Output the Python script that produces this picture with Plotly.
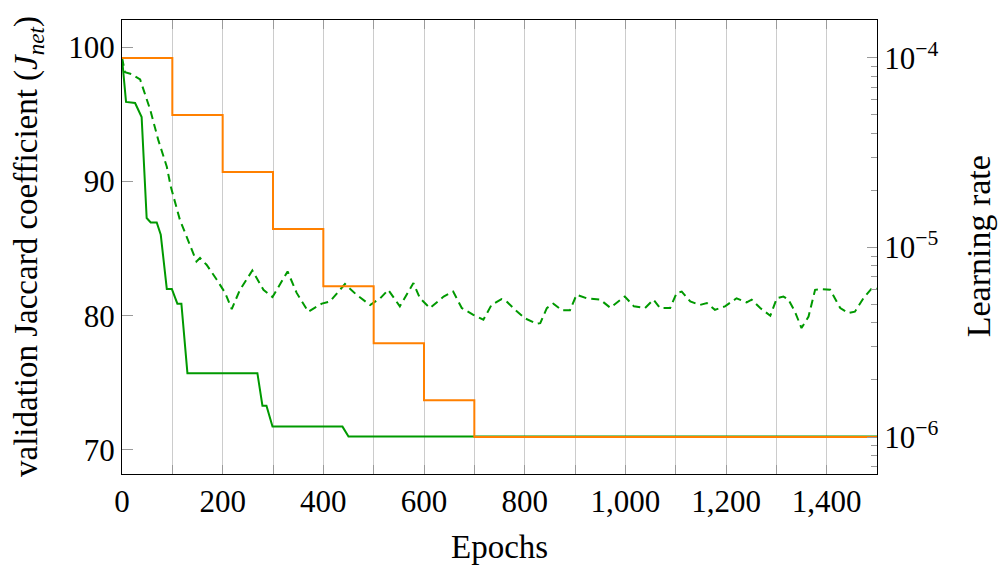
import plotly.graph_objects as go

# Learning-rate schedule: halved every 100 epochs, floored at 1e-6
lr_epochs = [0, 100, 100, 200, 200, 300, 300, 400, 400, 500, 500, 600, 600, 700, 700, 1500]
lr_values = [1e-4, 1e-4, 5e-5, 5e-5, 2.5e-5, 2.5e-5, 1.25e-5, 1.25e-5,
             6.25e-6, 6.25e-6, 3.125e-6, 3.125e-6, 1.5625e-6, 1.5625e-6, 1e-6, 1e-6]

# Best validation Jaccard so far (solid)
best_epochs = [0, 8, 26, 30, 39, 49, 57, 69, 77, 89, 99, 110, 118, 130, 269, 279, 287,
               299, 438, 450, 1500]
best_jnet = [99.2, 95.93, 95.85, 95.5, 94.8, 87.28, 86.95, 86.95, 86.03, 82.0, 82.0,
             80.9, 80.9, 75.72, 75.72, 73.3, 73.3, 71.74, 71.74, 71.0, 71.0]

# Validation Jaccard per evaluation (dashed)
val_epochs = [0, 6, 19, 36, 56, 72, 89, 97, 115, 135, 148, 155, 168, 188, 205, 218, 234,
              259, 281, 299, 329, 347, 370, 397, 413, 443, 466, 493, 513, 529, 552, 579,
              592, 612, 639, 658, 675, 698, 718, 734, 754, 764, 781, 801, 824, 831, 844,
              857, 874, 890, 903, 923, 950, 970, 999, 1017, 1039, 1056, 1069, 1089, 1102,
              1112, 1129, 1148, 1162, 1178, 1198, 1221, 1241, 1251, 1268, 1288, 1301,
              1314, 1324, 1337, 1350, 1364, 1377, 1390, 1407, 1427, 1443, 1456, 1473,
              1490, 1500]
val_jnet = [99.2, 98.14, 98.0, 97.6, 95.35, 93.1, 91.1, 89.6, 87.15, 85.3, 84.04, 84.3,
            83.8, 82.7, 81.7, 80.5, 81.9, 83.37, 81.93, 81.39, 83.3, 81.7, 80.3, 80.9,
            81.06, 82.36, 81.56, 80.8, 81.3, 81.93, 80.7, 82.43, 81.3, 80.57, 81.43, 81.8,
            80.57, 80.07, 79.7, 80.8, 81.24, 81.07, 80.44, 79.8, 79.4, 79.45, 80.57, 80.9,
            80.4, 80.4, 81.56, 81.3, 81.2, 80.6, 81.43, 80.7, 80.57, 81.2, 80.57, 80.57,
            81.7, 81.8, 81.06, 80.8, 80.94, 80.44, 80.7, 81.3, 80.99, 81.2, 80.57, 80.0,
            81.3, 81.43, 81.2, 80.3, 79.08, 79.94, 81.93, 81.98, 81.93, 80.57, 80.2, 80.3,
            81.3, 82.06, 82.0]

x_ticks = list(range(0, 1501, 100))
x_ticktext = [f"{v:,}" if v % 200 == 0 else "" for v in x_ticks]
y_ticks = [70, 80, 90, 100]
lr_ticks = [1e-6, 1e-5, 1e-4]
lr_ticktext = ["10<sup>\u22126</sup>", "10<sup>\u22125</sup>", "10<sup>\u22124</sup>"]
lr_minor = [m * 10 ** e for e in (-7, -6, -5) for m in range(2, 10)
            if 6.4e-7 < m * 10 ** e < 1.58e-4]

GREEN = "#009900"
ORANGE = "#ff8000"
TICK_GRAY = "#9a9a9a"
FONT = "Liberation Serif, DejaVu Serif, serif"
TICK_FONT = dict(family=FONT, size=31, color="black")


def axis_title(text, x, y, angle, size):
    return dict(text=text, xref="paper", yref="paper", x=x, y=y,
                xanchor="center", yanchor="middle", textangle=angle,
                showarrow=False, font=dict(family=FONT, size=size, color="black"))


fig = go.Figure()
fig.add_trace(go.Scatter(x=val_epochs, y=val_jnet, mode="lines",
                         line=dict(color=GREEN, width=2, dash="8px,5px"),
                         showlegend=False))
fig.add_trace(go.Scatter(x=best_epochs, y=best_jnet, mode="lines",
                         line=dict(color=GREEN, width=2), showlegend=False))
fig.add_trace(go.Scatter(x=lr_epochs, y=lr_values, mode="lines", yaxis="y2",
                         line=dict(color=ORANGE, width=2), showlegend=False))

fig.update_layout(
    width=1001, height=566,
    margin=dict(l=122, r=124, t=20, b=92),
    paper_bgcolor="white", plot_bgcolor="white",
    font=dict(family=FONT, size=31, color="black"),
    xaxis=dict(
        range=[0, 1500], tickvals=x_ticks, ticktext=x_ticktext, tickfont=TICK_FONT,
        showgrid=True, gridcolor="#cccccc", gridwidth=1,
        ticks="inside", ticklen=9, tickcolor=TICK_GRAY, tickwidth=1,
        showline=True, linecolor="black", linewidth=1.3, mirror="ticks",
        zeroline=False, automargin=False,
    ),
    yaxis=dict(
        range=[68.21, 102.03], tickvals=y_ticks, tickfont=TICK_FONT,
        showgrid=False, zeroline=False, automargin=False,
        ticks="inside", ticklen=11, tickcolor=TICK_GRAY, tickwidth=1,
        showline=True, linecolor="black", linewidth=1.3,
    ),
    yaxis2=dict(
        type="log", overlaying="y", side="right",
        range=[-6.195, -3.80], tickvals=lr_ticks, ticktext=lr_ticktext,
        tickfont=TICK_FONT, automargin=False,
        showgrid=False, zeroline=False,
        ticks="inside", ticklen=10, tickcolor=TICK_GRAY, tickwidth=1,
        minor=dict(tickvals=lr_minor, ticks="inside", ticklen=6,
                   tickcolor=TICK_GRAY, tickwidth=1, showgrid=False),
        showline=True, linecolor="black", linewidth=1.3,
    ),
    annotations=[
        axis_title("Epochs", 0.5, -0.1608, 0, 33),
        axis_title("validation Jaccard coefficient (<i>J</i><sub><i>net</i></sub>)",
                   -0.1245, 0.5, -90, 33),
        axis_title("Learning rate", 1.134, 0.502, -90, 34),
    ],
)

fig.write_html("out.html")
